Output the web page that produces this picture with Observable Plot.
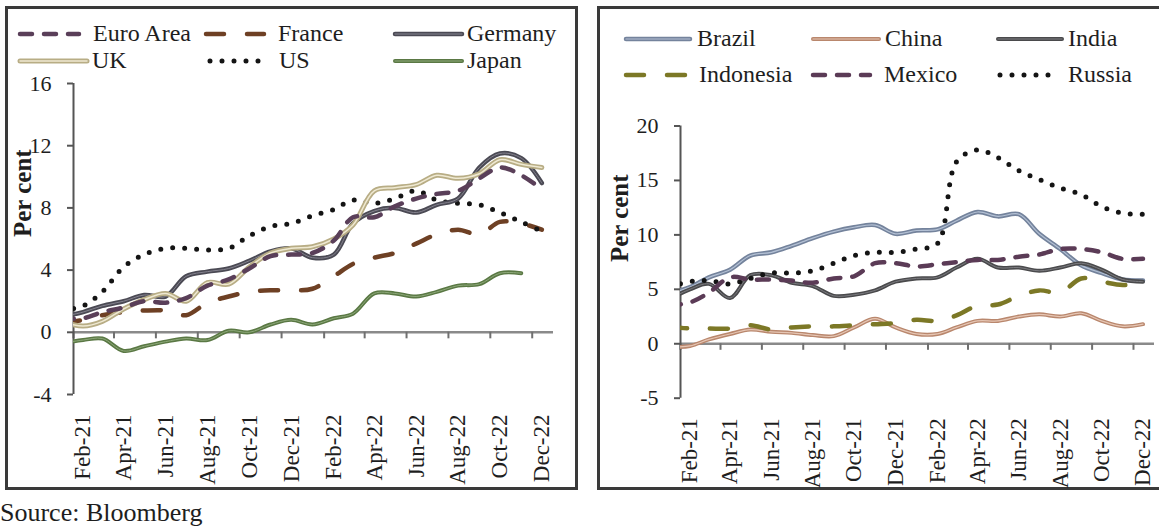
<!DOCTYPE html>
<html><head><meta charset="utf-8">
<script src="https://cdn.jsdelivr.net/npm/d3@7"></script>
<script src="https://cdn.jsdelivr.net/npm/@observablehq/plot@0.6"></script>
<style>
html,body{margin:0;padding:0;background:#fff;}
#wrap{position:relative;width:1159px;height:529px;overflow:hidden;font-family:"Liberation Serif","Times New Roman",serif;color:#1e1e1e;background:#fff;}
.panel{position:absolute;border:3px solid #3a3a3a;box-sizing:border-box;}
.chart{position:absolute;top:0;}
.sw{position:absolute;overflow:visible;}
.lt{position:absolute;font-size:24px;line-height:28px;height:28px;white-space:nowrap;}
#source{position:absolute;left:0px;top:499px;font-size:26px;line-height:28px;white-space:nowrap;}
</style></head>
<body><div id="wrap">
<div class="panel" style="left:5px;top:6px;width:573px;height:484px"></div>
<div class="panel" style="left:597px;top:6px;width:600px;height:484px"></div>
<div id="left" class="chart" style="left:0px"></div>
<div id="right" class="chart" style="left:590px"></div>
<div id="source">Source: Bloomberg</div>
</div>
<script>
// ---- data ----
const months = ["Jan-21","Feb-21","Mar-21","Apr-21","May-21","Jun-21","Jul-21","Aug-21","Sep-21","Oct-21","Nov-21","Dec-21",
                "Jan-22","Feb-22","Mar-22","Apr-22","May-22","Jun-22","Jul-22","Aug-22","Sep-22","Oct-22","Nov-22","Dec-22"];
const tickLabels = ["Feb-21","Apr-21","Jun-21","Aug-21","Oct-21","Dec-21","Feb-22","Apr-22","Jun-22","Aug-22","Oct-22","Dec-22"];
const leftYTicks = [-4, 0, 4, 8, 12, 16];
const rightYTicks = [-5, 0, 5, 10, 15, 20];

// Advanced economies (per cent)
const euroArea = [0.9,0.9,1.3,1.6,2.0,1.9,2.2,3.0,3.4,4.1,4.9,5.0, 5.1,5.9,7.4,7.4,8.1,8.6,8.9,9.1,9.9,10.6,10.1,9.2];
const france   = [0.6,0.8,1.1,1.3,1.4,1.4,1.1,1.9,2.3,2.6,2.7,2.7, 2.8,3.6,4.4,4.8,5.1,5.7,6.3,6.6,6.3,7.1,7.0,6.6];
const germany  = [1.0,1.3,1.7,2.0,2.4,2.3,3.6,3.9,4.1,4.6,5.2,5.4, 4.8,5.0,7.0,7.8,8.0,7.7,8.2,8.6,10.6,11.5,11.2,9.6];
const uk       = [0.7,0.4,0.7,1.5,2.1,2.5,2.0,3.2,3.1,4.2,5.1,5.4, 5.5,6.0,6.9,9.1,9.3,9.5,10.1,9.9,10.2,11.1,10.8,10.6];
const us       = [1.4,1.7,2.6,4.2,5.0,5.4,5.4,5.3,5.4,6.2,6.8,7.0, 7.5,7.9,8.5,8.3,8.6,9.1,8.5,8.3,8.2,7.7,7.1,6.5];
const japan    = [-0.7,-0.5,-0.4,-1.2,-0.9,-0.6,-0.4,-0.5,0.1,0.0,0.5,0.8, 0.5,0.9,1.2,2.5,2.5,2.3,2.6,3.0,3.1,3.8,3.8,null];

// Emerging economies (per cent)
const brazil    = [4.6,5.2,6.1,6.8,8.1,8.4,9.0,9.7,10.3,10.7,10.9,10.1, 10.4,10.5,11.3,12.1,11.7,11.9,10.1,8.7,7.2,6.5,5.9,5.8];
const china     = [-0.3,-0.2,0.4,0.9,1.3,1.1,1.0,0.8,0.7,1.5,2.3,1.5, 0.9,0.9,1.5,2.1,2.1,2.5,2.7,2.5,2.8,2.1,1.6,1.8];
const india     = [4.1,5.0,5.5,4.2,6.3,6.3,5.6,5.3,4.4,4.5,4.9,5.7, 6.0,6.1,7.0,7.8,7.0,7.0,6.7,7.0,7.4,6.8,5.9,5.7];
const indonesia = [1.6,1.4,1.4,1.4,1.7,1.3,1.5,1.6,1.6,1.7,1.8,1.9, 2.2,2.1,2.6,3.5,3.6,4.4,4.9,4.7,6.0,5.7,5.4,5.5];
const mexico    = [3.5,3.8,4.7,6.1,5.9,5.9,5.8,5.6,6.0,6.2,7.4,7.4, 7.1,7.3,7.5,7.7,7.7,8.0,8.2,8.7,8.7,8.4,7.8,7.8];
const russia    = [5.2,5.7,5.8,5.5,6.0,6.5,6.5,6.7,7.4,8.1,8.4,8.4, 8.7,9.2,16.7,17.8,17.1,15.9,15.1,14.3,13.7,12.6,12.0,11.9];

// ---- styles ----
const DOT = "0,12", SHORT = "12,12", LONG = "18,23";
const leftSeries = [
  {name:"Japan", values:japan, color:"#5a7844", width:4, inner:"#8ea97a", innerWidth:1},
  {name:"France", values:france, color:"#6e4024", width:4.5, dash:LONG},
  {name:"US", values:us, color:"#141414", width:5, dash:DOT},
  {name:"Germany", values:germany, color:"#4b4a54", width:4.5, inner:"#85838f", innerWidth:1},
  {name:"UK", values:uk, color:"#b8ad85", width:5, inner:"#efe9d2", innerWidth:1.5},
  {name:"Euro Area", values:euroArea, color:"#5a3f59", width:4.5, dash:SHORT}
];
const rightSeries = [
  {name:"Brazil", values:brazil, color:"#74839c", width:4.5, inner:"#b3c0d4", innerWidth:1.2},
  {name:"India", values:india, color:"#4a4a4c", width:4, inner:"#7c7c80", innerWidth:1},
  {name:"China", values:china, color:"#b9876d", width:4, inner:"#e6c6b4", innerWidth:1.2},
  {name:"Russia", values:russia, color:"#141414", width:5, dash:DOT},
  {name:"Indonesia", values:indonesia, color:"#7c7826", width:4.5, dash:LONG},
  {name:"Mexico", values:mexico, color:"#5b3b56", width:4.5, dash:SHORT}
];

const parseM = d3.utcParse("%b-%y");
const fmtM = d3.utcFormat("%b-%y");
const midDates = months.map(m => d3.utcDay.offset(parseM(m), 14));
const labelDates = tickLabels.map(m => d3.utcDay.offset(parseM(m), 14));
const boundaryDates = tickLabels.map(m => parseM(m));
const xDomain = [parseM(tickLabels[0]), d3.utcMonth.offset(parseM(months[months.length-1]), 1)];

function rows(s){
  return s.values.map((v,i)=>({date: midDates[i], value: v})).filter(d => d.value != null);
}

function panel(cfg){
  const marks = [
    Plot.ruleY([0], {stroke:"#8a8a8a", strokeWidth:2.5}),
    Plot.ruleX(boundaryDates, {y1:0, y2:cfg.tickLen, stroke:"#707070", strokeWidth:2}),
    Plot.ruleX([xDomain[0]], {stroke:"#555", strokeWidth:2}),
    Plot.axisY(cfg.yTicks, {tickSize:6, tickPadding:16, fontSize:22, stroke:"#555", strokeWidth:2, fill:"#1e1e1e", label:null, tickFormat:d => String(d)}),
    Plot.axisX(labelDates, {tickSize:0, tickRotate:-90, tickPadding:20, fontSize:23, fill:"#1e1e1e", tickFormat:fmtM, label:null}),
    Plot.text(["Per cent"], {frameAnchor:"left", rotate:-90, dx:cfg.labelDx, dy:cfg.labelDy, fontSize:25, fontWeight:"bold", fill:"#1e1e1e"})
  ];
  for (const s of cfg.series){
    const r = rows(s);
    marks.push(Plot.line(r, {x:"date", y:"value", stroke:s.color, strokeWidth:s.width, strokeDasharray:s.dash,
      strokeLinecap:"round", strokeLinejoin:"round", curve:"catmull-rom", clip:true}));
    if (s.inner) marks.push(Plot.line(r, {x:"date", y:"value", stroke:s.inner, strokeWidth:s.innerWidth,
      strokeLinecap:"round", curve:"catmull-rom", clip:true}));
  }
  return Plot.plot({
    width: cfg.width, height: cfg.height,
    marginLeft: cfg.ml, marginRight: cfg.mr, marginTop: cfg.mt, marginBottom: cfg.mb,
    x: {type:"utc", domain: xDomain, label:null},
    y: {domain: cfg.yDomain, label:null},
    style: {fontFamily:'"Liberation Serif","Times New Roman",serif', background:"transparent", overflow:"visible", color:"#1e1e1e"},
    marks
  });
}

document.getElementById("left").append(panel({
  width:590, height:490, ml:73, mr:37, mt:83, mb:96,
  yDomain:[leftYTicks[0], leftYTicks[leftYTicks.length-1]], yTicks:leftYTicks,
  tickLen:-0.42, labelDx:-50.5, labelDy:-2, series:leftSeries
}));
document.getElementById("right").append(panel({
  width:569, height:490, ml:90, mr:5, mt:125.5, mb:92.3,
  yDomain:[rightYTicks[0], rightYTicks[rightYTicks.length-1]], yTicks:rightYTicks,
  tickLen:-0.6, labelDx:-61, labelDy:0, series:rightSeries
}));

// ---- legends ----
const legendLayout = {
  "Euro Area":{x:17,w:65,tx:93,y:34}, "France":{x:203,w:64,tx:278,y:34}, "Germany":{x:392,w:73,tx:467,y:34},
  "UK":{x:17,w:73,tx:92,y:61}, "US":{x:207,w:60,tx:279,y:61}, "Japan":{x:392,w:73,tx:467,y:61},
  "Brazil":{x:623,w:70,tx:697,y:39}, "China":{x:810,w:72,tx:885,y:39}, "India":{x:995,w:70,tx:1068,y:39},
  "Indonesia":{x:623,w:65,tx:699,y:75}, "Mexico":{x:810,w:63,tx:884,y:75}, "Russia":{x:997,w:60,tx:1068,y:75}
};
const wrap = document.getElementById("wrap");
const ns = "http://www.w3.org/2000/svg";
for (const s of [...leftSeries, ...rightSeries]){
  const L = legendLayout[s.name];
  const svg = document.createElementNS(ns, "svg");
  svg.setAttribute("class","sw"); svg.setAttribute("width", L.w); svg.setAttribute("height", 14);
  svg.style.left = L.x + "px"; svg.style.top = (L.y - 7) + "px";
  const mk = (stroke, w, dash) => {
    const ln = document.createElementNS(ns, "line");
    ln.setAttribute("x1", 3); ln.setAttribute("x2", L.w - 3); ln.setAttribute("y1", 7); ln.setAttribute("y2", 7);
    ln.setAttribute("stroke", stroke); ln.setAttribute("stroke-width", w); ln.setAttribute("stroke-linecap","round");
    if (dash) ln.setAttribute("stroke-dasharray", dash);
    svg.appendChild(ln);
  };
  mk(s.color, s.width, s.dash);
  if (s.inner) mk(s.inner, s.innerWidth);
  wrap.appendChild(svg);
  const t = document.createElement("div");
  t.className = "lt"; t.textContent = s.name;
  t.style.left = L.tx + "px"; t.style.top = (L.y - 15) + "px";
  wrap.appendChild(t);
}
</script>
</body></html>
